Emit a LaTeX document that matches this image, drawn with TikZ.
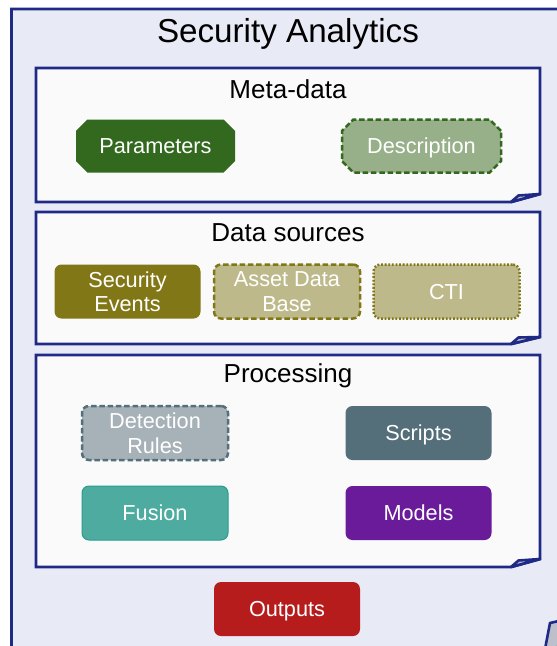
\documentclass[tikz,border=0pt]{standalone}
\usepackage{fontspec}
\setmainfont{Liberation Sans}
\usetikzlibrary{shapes.misc}
\definecolor{outerfill}{HTML}{E8EAF6}
\definecolor{indigo}{HTML}{1F2A86}
\definecolor{panelfill}{HTML}{FAFAFA}
\definecolor{foldfill}{HTML}{BDBFCB}
\definecolor{darkgreen}{HTML}{33691E}
\definecolor{lightgreen}{HTML}{97B08A}
\definecolor{olive}{HTML}{827717}
\definecolor{lightolive}{HTML}{BDB98B}
\definecolor{slate}{HTML}{546E7A}
\definecolor{lightslate}{HTML}{A7B2B8}
\definecolor{teal}{HTML}{4DAB9F}
\definecolor{tealborder}{HTML}{2A9D8F}
\definecolor{purple}{HTML}{6A1B9A}
\definecolor{darkred}{HTML}{B71C1C}
\tikzset{
  panel/.style={draw=indigo, line width=2.9pt, fill=panelfill, line join=miter},
  fold/.style={draw=indigo, line width=2.6pt, fill=foldfill, line join=round},
  paneltitle/.style={font=\fontsize{26}{28}\selectfont, text=black, anchor=center, inner sep=0pt},
  item/.style={font=\fontsize{21.7}{24.5}\selectfont, text=white, align=center, inner sep=0pt,
    minimum width=146pt, minimum height=54pt, rounded corners=7pt},
  oneline/.style={text depth=0pt, text height=15.6pt},
  octo/.style={chamfered rectangle, chamfered rectangle xsep=15pt, chamfered rectangle angle=45,
    font=\fontsize{21.7}{24.5}\selectfont, text=white, inner sep=0pt, oneline,
    minimum width=159pt, minimum height=53pt},
  dashedline/.style={dash pattern=on 5.5pt off 2.8pt, line width=2.5pt},
  dottedline/.style={dash pattern=on 1.8pt off 1.8pt, line width=2.5pt},
}
\begin{document}
\begin{tikzpicture}[x=1pt,y=-1pt]
\useasboundingbox (0,0) rectangle (557,646);
\clip (0,0) rectangle (557,646);
\fill[white] (0,0) rectangle (557,646);
% outer container
\draw[draw=indigo, line width=2.9pt, fill=outerfill] (11.5,9) -- (580,9) -- (580,616) -- (541,670) -- (11.5,670) -- cycle;
\draw[fold] (541,670) -- (550,623) -- (580,616) -- cycle;
\node[font=\fontsize{33.2}{36}\selectfont, inner sep=0pt] (title) at (288,34) {Security Analytics};

% Meta-data panel
\draw[panel] (36,68) -- (540,68) -- (540,194) -- (511,202) -- (36,202) -- cycle;
\draw[fold] (511,202) -- (518.5,195.5) -- (540,194) -- cycle;
\node[paneltitle] (meta) at (288,89) {Meta-data};
\node[octo, fill=darkgreen] (params) at (155.5,146) {Parameters};
\node[octo, fill=lightgreen, draw=darkgreen, dashedline] (desc) at (421.5,146) {Description};

% Data sources panel
\draw[panel] (36,212) -- (540,212) -- (540,337) -- (511,344) -- (36,344) -- cycle;
\draw[fold] (511,344) -- (518.5,337.5) -- (540,337) -- cycle;
\node[paneltitle] (ds) at (288,232.5) {Data sources};
\node[item, fill=olive] (secev) at (127.5,291.5) {Security\\Events};
\node[item, fill=lightolive, draw=olive, dashedline] (asset) at (287,291.5) {Asset Data\\Base};
\node[item, oneline, fill=lightolive, draw=olive, dottedline] (cti) at (446.5,291.5) {CTI};

% Processing panel
\draw[panel] (36,355) -- (540,355) -- (540,559) -- (511,567) -- (36,567) -- cycle;
\draw[fold] (511,567) -- (518.5,560.5) -- (540,559) -- cycle;
\node[paneltitle] (proc) at (288,376) {Processing};
\node[item, fill=lightslate, draw=slate, dashedline] (detect) at (155,433) {Detection\\Rules};
\node[item, oneline, fill=slate] (scripts) at (418.5,433) {Scripts};
\node[item, oneline, fill=teal, draw=tealborder, line width=1pt] (fusion) at (155,513) {Fusion};
\node[item, oneline, fill=purple] (models) at (418.5,513) {Models};

% Outputs
\node[item, oneline, fill=darkred] (outputs) at (287,609) {Outputs};
\end{tikzpicture}
\end{document}
